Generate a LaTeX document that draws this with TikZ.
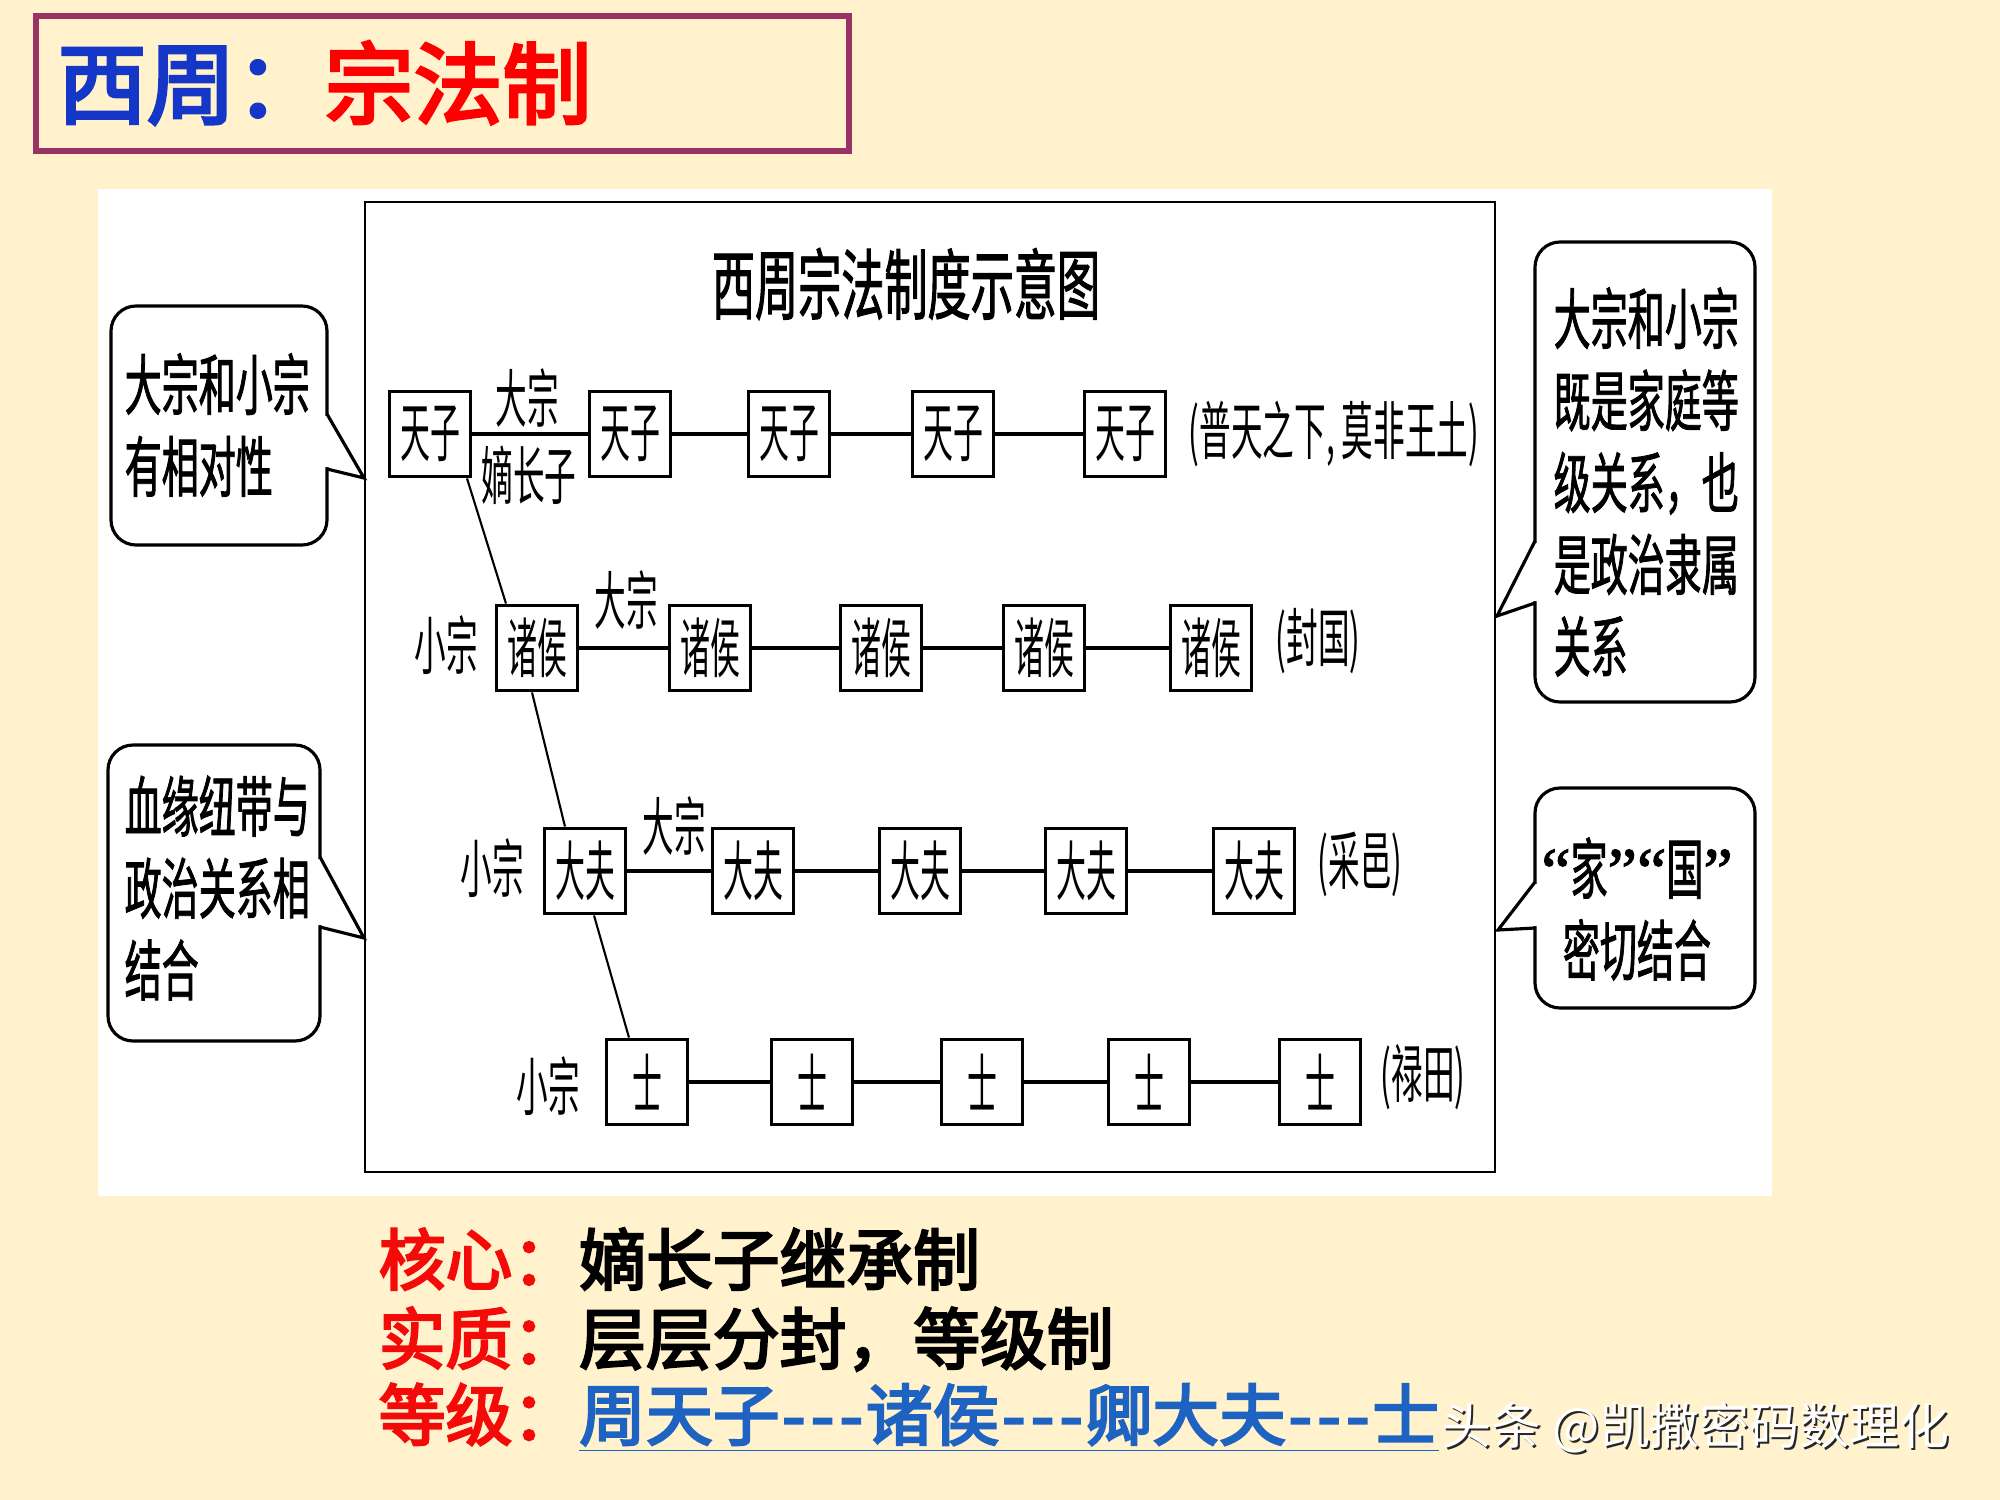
\documentclass[tikz,border=0pt]{standalone}
\usepackage{fontspec}
\setmainfont{Noto Sans CJK SC}
\newfontfamily\narrowfont[FakeStretch=0.5]{Noto Sans CJK SC}
\newfontfamily\boxfont[FakeStretch=0.46]{Noto Sans CJK SC}
\newfontfamily\notefont[FakeStretch=0.56,FakeBold=1.2]{Noto Sans CJK SC}
\newfontfamily\heavyfont[FakeBold=3.5]{Noto Sans CJK SC}
\newfontfamily\quotefont[FakeBold=1.5]{Liberation Serif}
\newcommand\rankdash{\makebox[0.43em]{-}}
\usetikzlibrary{positioning,calc}
\definecolor{paper}{HTML}{FFF2CC}
\definecolor{framepurple}{HTML}{993366}
\definecolor{titleblue}{HTML}{1437C8}
\definecolor{keyred}{HTML}{F50A0A}
\definecolor{rankblue}{HTML}{1E63C1}

\begin{document}
\begin{tikzpicture}[x=0.01cm,y=-0.01cm,
  rankbox/.style={draw,line width=1.1pt,fill=white,minimum width=8.1mm,minimum height=8.5mm,inner sep=0pt,font=\boxfont\fontsize{18.5}{20}\selectfont},
  tag/.style={inner sep=0pt,font=\narrowfont\fontsize{18}{20}\selectfont},
  note/.style={inner sep=0pt,align=left,font=\notefont\fontsize{18.8}{23.3}\selectfont},
  bubble/.style={draw,line width=0.9pt,fill=white,rounded corners=2.5mm},
  tie/.style={line width=0.9pt},
  branch/.style={line width=0.6pt},
  keyline/.style={anchor=west,inner sep=0pt,font=\heavyfont\fontsize{19}{22}\selectfont}]
  \fill[paper] (0,0) rectangle (2000,1500);
  \useasboundingbox (0,0) rectangle (2000,1500);

  % heading
  \draw[framepurple,line width=1.7pt] (36,16) rectangle (849,151);
  \node[anchor=west,inner sep=0pt,font=\heavyfont\fontsize{25.3}{30}\selectfont] (title) at (57,83)
    {\textcolor{titleblue}{西周：}\textcolor{red}{宗法制}};

  % chart
  \fill[white] (98,189) rectangle (1772,1196);
  \draw[line width=0.7pt] (365,202) rectangle (1495,1172);
  \node[tag,font=\notefont\fontsize{21.9}{24}\selectfont] (chart) at (906,284) {西周宗法制度示意图};

  \foreach \x [count=\i] in {430,630,789,953,1125}
    \node[rankbox] (t\i) at (\x,434) {天子};
  \foreach \x [count=\i] in {537,710,881,1044,1211}
    \node[rankbox] (z\i) at (\x,648) {诸侯};
  \foreach \x [count=\i] in {585,753,920,1086,1254}
    \node[rankbox] (d\i) at (\x,871) {大夫};
  \foreach \x [count=\i] in {647,812,982,1149,1320}
    \node[rankbox] (s\i) at (\x,1082) {士};
  \foreach \a/\b in {1/2,2/3,3/4,4/5}{
    \draw[tie] (t\a) -- (t\b);
    \draw[tie] (z\a) -- (z\b);
    \draw[tie] (d\a) -- (d\b);
    \draw[tie] (s\a) -- (s\b);
  }
  \draw[branch] ([xshift=3.7mm]t1.south) -- ([xshift=-3.1mm]z1.north);
  \draw[branch] ([xshift=-0.5mm]z1.south) -- ([xshift=-2mm]d1.north);
  \draw[branch] ([xshift=0.9mm]d1.south) -- ([xshift=-1.8mm]s1.north);

  \node[tag] (big1) at (527,398) {大宗};
  \node[tag] (heir) at (529,475) {嫡长子};
  \node[tag] (small2) at (446,645) {小宗};
  \node[tag] (big2) at (626,600) {大宗};
  \node[tag] (small3) at (492,868) {小宗};
  \node[tag] (big3) at (674,826) {大宗};
  \node[tag] (small4) at (548,1086) {小宗};
  \node[tag] (land1) at (1334,434) {(普天之下, 莫非王土)};
  \node[tag] (land2) at (1318,641) {(封国)};
  \node[tag] (land3) at (1360,864) {(采邑)};
  \node[tag] (land4) at (1423,1077) {(禄田)};

  % callouts
  \draw[bubble] (111,306) rectangle (327,545);
  \fill[white] (320,416) -- (329,416) -- (364,478) -- (329,467) -- (320,467) -- cycle;
  \draw[line width=0.9pt] (327,414) -- (364,478) -- (327,469);
  \node[note,anchor=west] (relnote) at (124,425) {大宗和小宗\\有相对性};

  \draw[bubble] (108,745) rectangle (320,1041);
  \fill[white] (313,859) -- (322,859) -- (364,938) -- (322,925) -- (313,925) -- cycle;
  \draw[line width=0.9pt] (320,857) -- (364,938) -- (320,927);
  \node[note,anchor=west] (bloodnote) at (124,888) {血缘纽带与\\政治关系相\\结合};

  \draw[bubble] (1535,242) rectangle (1755,702);
  \fill[white] (1542,543) -- (1533,543) -- (1497,616) -- (1533,601) -- (1542,601) -- cycle;
  \draw[line width=0.9pt] (1535,541) -- (1497,616) -- (1535,603);
  \node[note,anchor=west] (rolenote) at (1553,482) {大宗和小宗\\既是家庭等\\级关系，也\\是政治隶属\\关系};

  \draw[bubble] (1535,788) rectangle (1755,1008);
  \fill[white] (1542,884) -- (1533,884) -- (1498,930) -- (1533,926) -- (1542,926) -- cycle;
  \draw[line width=0.9pt] (1535,882) -- (1498,930) -- (1535,928);
  \node[note,align=center] (homenote) at (1637,909)
    {{\quotefont“}家{\quotefont”}{\quotefont“}国{\quotefont”}\\密切结合};

  % summary lines
  \node[keyline] (core) at (378,1259) {\textcolor{keyred}{核心：}嫡长子继承制};
  \node[keyline] (essence) at (378,1339) {\textcolor{keyred}{实质：}层层分封，等级制};
  \node[keyline] (rank) at (378,1418)
    {\textcolor{keyred}{等级：}\textcolor{rankblue}{\underline{周天子\rankdash\rankdash\rankdash 诸侯\rankdash\rankdash\rankdash 卿大夫\rankdash\rankdash\rankdash 士}}};
  \node[anchor=west,inner sep=0pt,font=\fontsize{14.2}{16}\selectfont,text=black!85] (markshade) at (1443,1430) {头条 @凯撒密码数理化};
  \node[anchor=west,inner sep=0pt,font=\fontsize{14.2}{16}\selectfont,text=white] (mark) at (1441,1428) {头条 @凯撒密码数理化};
\end{tikzpicture}
\end{document}
